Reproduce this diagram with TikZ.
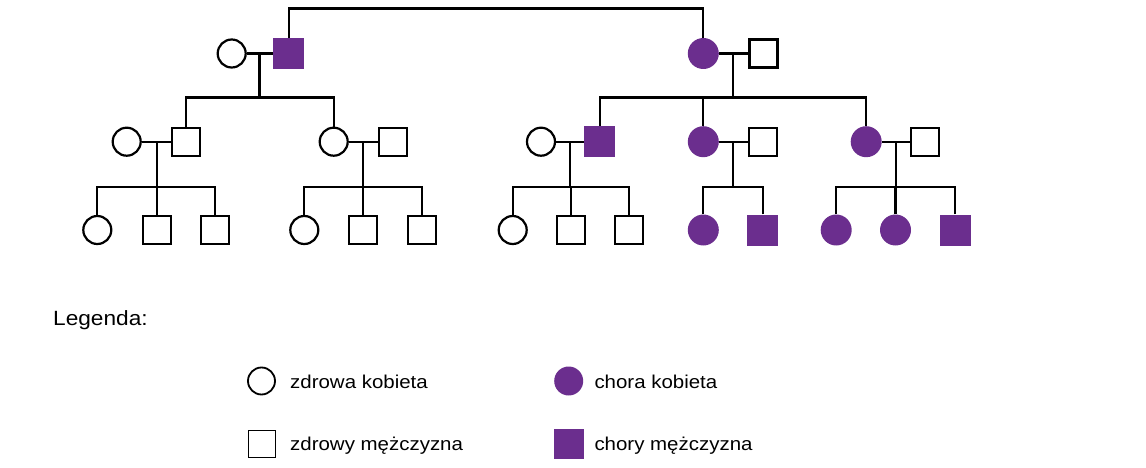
\documentclass[tikz,border=0pt]{standalone}
\usepackage{fontspec}
\newfontfamily\lab{Liberation Sans}[FakeStretch=1.1]
\definecolor{sick}{RGB}{107,46,142}
\tikzset{
  fem/.style={circle,draw=black,line width=2.2pt,fill=white,minimum size=28pt,inner sep=0pt},
  mal/.style={rectangle,draw=black,line width=2.2pt,fill=white,minimum size=28pt,inner sep=0pt},
  sfem/.style={circle,fill=sick,minimum size=31pt,inner sep=0pt},
  smal/.style={rectangle,fill=sick,minimum size=31pt,inner sep=0pt},
  lfem/.style={circle,draw=black,line width=1.8pt,minimum size=27pt,inner sep=0pt},
  lmal/.style={rectangle,draw=black,line width=1.8pt,minimum width=27pt,minimum height=27pt,inner sep=0pt},
  lsfem/.style={circle,fill=sick,minimum size=29pt,inner sep=0pt},
  lsmal/.style={rectangle,fill=sick,minimum width=30pt,minimum height=30pt,inner sep=0pt},
  link/.style={line width=2.2pt,draw=black},
  txt/.style={anchor=base west,inner sep=0pt,font=\lab\fontsize{18.6}{22}\selectfont},
  legtxt/.style={anchor=base west,inner sep=0pt,font=\lab\fontsize{20.6}{24}\selectfont}
}
\begin{document}
\begin{tikzpicture}[x=1pt,y=-1pt]
\useasboundingbox (0,0) rectangle (1146,468);
% generation 1
\node[fem]  (g1a) at (231.7,53.5) {};
\node[smal] (g1b) at (288.8,53.5) {};
\node[sfem] (g1c) at (703.3,53.5) {};
\node[mal]  (g1d) at (763.5,53.5) {};
% generation 2
\node[fem]  (a1) at (126.7,141.7) {};
\node[mal]  (a2) at (186,141.7) {};
\node[fem]  (b1) at (333.7,141.7) {};
\node[mal]  (b2) at (393.3,141.7) {};
\node[fem]  (c1) at (541,141.7) {};
\node[smal] (c2) at (599.7,141.7) {};
\node[sfem] (d1) at (703.3,141.7) {};
\node[mal]  (d2) at (762.7,141.7) {};
\node[sfem] (e1) at (866.2,141.7) {};
\node[mal]  (e2) at (925,141.7) {};
% generation 3
\node[fem]  (a31) at (97.3,230) {};
\node[mal]  (a32) at (156.7,230) {};
\node[mal]  (a33) at (215,230) {};
\node[fem]  (b31) at (304.3,230) {};
\node[mal]  (b32) at (363.3,230) {};
\node[mal]  (b33) at (421.7,230) {};
\node[fem]  (c31) at (512.7,230) {};
\node[mal]  (c32) at (570.7,230) {};
\node[mal]  (c33) at (629.3,230) {};
\node[sfem] (d31) at (703.3,230) {};
\node[smal] (d32) at (762.7,230) {};
\node[sfem] (e31) at (836.2,230) {};
\node[sfem] (e32) at (895.5,230) {};
\node[smal] (e33) at (955,230) {};
% marriage midpoints and sibling bars
\coordinate (m1) at (259.5,53.5);  \coordinate (s1) at (259.5,97.5);
\coordinate (m2) at (733.3,53.5);  \coordinate (s2) at (733.3,97.5);
\coordinate (ma) at (156.7,141.7); \coordinate (sa) at (156.7,187);
\coordinate (mb) at (363.3,141.7); \coordinate (sb) at (363.3,187);
\coordinate (mc) at (570,141.7);   \coordinate (sc) at (570,187);
\coordinate (md) at (733.3,141.7); \coordinate (sd) at (733.3,187);
\coordinate (me) at (895.7,141.7); \coordinate (se) at (895.7,187);
\coordinate (top) at (288.8,8.5);
% top connection
\draw[link] (g1b.north) -- (top) -| (g1c.north);
% marriages
\draw[link] (g1a.east) -- (g1b.west);
\draw[link] (g1c.east) -- (g1d.west);
\draw[link] (a1.east) -- (a2.west);
\draw[link] (b1.east) -- (b2.west);
\draw[link] (c1.east) -- (c2.west);
\draw[link] (d1.east) -- (d2.west);
\draw[link] (e1.east) -- (e2.west);
% descents
\draw[link] (m1) -- (s1);
\draw[link] (m2) -- (s2);
\draw[link] (ma) -- (sa);
\draw[link] (mb) -- (sb);
\draw[link] (mc) -- (sc);
\draw[link] (md) -- (sd);
\draw[link] (me) -- (se);
% children
\draw[link] (a2.north) |- (s1);
\draw[link] (b1.north) |- (s1);
\draw[link] (c2.north) |- (s2);
\draw[link] (d1.north) |- (s2);
\draw[link] (e1.north) |- (s2);
\draw[link] (a31.north) |- (sa);
\draw[link] (a32.north) |- (sa);
\draw[link] (a33.north) |- (sa);
\draw[link] (b31.north) |- (sb);
\draw[link] (b32.north) |- (sb);
\draw[link] (b33.north) |- (sb);
\draw[link] (c31.north) |- (sc);
\draw[link] (c32.north) |- (sc);
\draw[link] (c33.north) |- (sc);
\draw[link] (d31.north) |- (sd);
\draw[link] (d32.north) |- (sd);
\draw[link] (e31.north) |- (se);
\draw[link] (e32.north) |- (se);
\draw[link] (e33.north) |- (se);
% legend
\node[legtxt] (leg) at (53,325) {Legenda:};
\node[lfem]  (l1) at (261.5,381) {};
\node[txt]   (t1) at (290,388.3) {zdrowa kobieta};
\node[lsfem] (l2) at (568.7,381) {};
\node[txt]   (t2) at (594.3,388.3) {chora kobieta};
\node[lmal]  (l3) at (262,444) {};
\node[txt]   (t3) at (290,450.5) {zdrowy mężczyzna};
\node[lsmal] (l4) at (569,444.3) {};
\node[txt]   (t4) at (594.3,450.5) {chory mężczyzna};
\end{tikzpicture}
\end{document}
